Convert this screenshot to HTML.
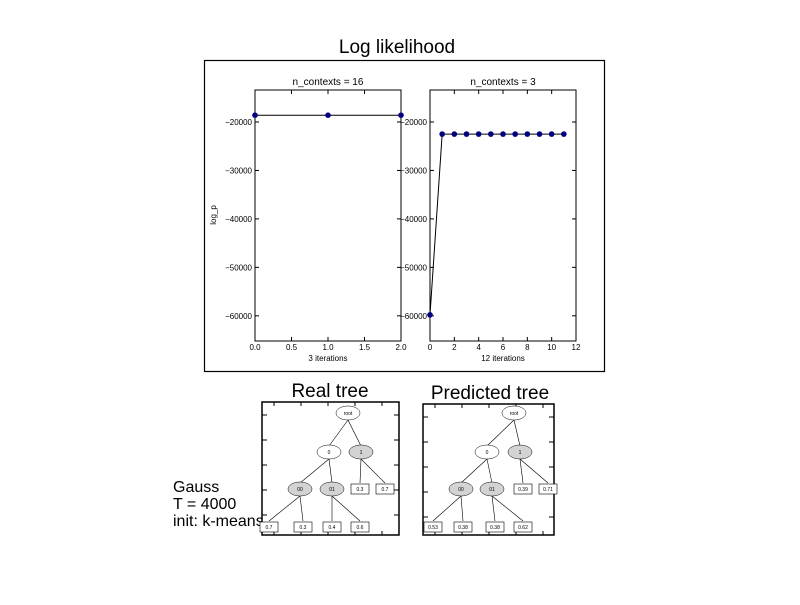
<!DOCTYPE html>
<html><head><meta charset="utf-8"><style>
body{margin:0;background:#fff;width:800px;height:600px;overflow:hidden}
svg text{font-family:"Liberation Sans",sans-serif}
</style></head><body>
<svg id="fig" width="800" height="600" xmlns="http://www.w3.org/2000/svg">
<text x="397" y="53" font-size="19" text-anchor="middle">Log likelihood</text>
<rect x="204.5" y="60.5" width="400" height="311" fill="none" stroke="#000" stroke-width="1.2"/>
<g id="plots"></g>
<text x="330" y="397" font-size="19" text-anchor="middle">Real tree</text>
<text x="490" y="399" font-size="19" text-anchor="middle">Predicted tree</text>
<g font-size="16">
<text x="173" y="492">Gauss</text>
<text x="173" y="509">T = 4000</text>
<text x="173" y="526">init: k-means</text>
</g>
<g id="trees"></g>
</svg>
<script>
const NS="http://www.w3.org/2000/svg";
const leftX=[0,1,2];
const leftY=[-18600,-18600,-18600];
const rightX=[0,1,2,3,4,5,6,7,8,9,10,11];
const rightY=[-59800,-22500,-22500,-22500,-22500,-22500,-22500,-22500,-22500,-22500,-22500,-22500];
const yTicks=[-20000,-30000,-40000,-50000,-60000];
const leftXTicks=[0,0.5,1,1.5,2];
const rightXTicks=[0,2,4,6,8,10,12];
const yMin=-65200,yMax=-13400;
function mk(t,a,p){const e=document.createElementNS(NS,t);for(const k in a)e.setAttribute(k,a[k]);(p||document.getElementById('plots')).appendChild(e);return e;}
function panel(name,x0,x1,xmin,xmax,xs,ys,xt,title,xlabel,fmt){
 const y0=90,y1=341;
 const sx=v=>x0+(v-xmin)/(xmax-xmin)*(x1-x0);
 const sy=v=>y1-(v-yMin)/(yMax-yMin)*(y1-y0);
 const g=mk('g',{});
 
 
 const r=mk('rect',{x:x0,y:y0,width:x1-x0,height:y1-y0,fill:'none',stroke:'#000','stroke-width':1},g);
 
 
 const t=mk('text',{x:(x0+x1)/2,y:y0-5,'font-size':10,'text-anchor':'middle'},g);t.textContent=title;
 
 
 yTicks.forEach(v=>{const y=sy(v);mk('line',{x1:x0,x2:x0+4,y1:y,y2:y,stroke:'#000'},g);mk('line',{x1:x1,x2:x1-4,y1:y,y2:y,stroke:'#000'},g);
  const l=mk('text',{x:x0-3,y:y+3,'font-size':8,'text-anchor':'end'},g);l.textContent='\u2212'+(-v);
  
  });
 xt.forEach(v=>{const x=sx(v);mk('line',{x1:x,x2:x,y1:y1,y2:y1-4,stroke:'#000'},g);mk('line',{x1:x,x2:x,y1:y0,y2:y0+4,stroke:'#000'},g);
  const l=mk('text',{x:x,y:y1+9,'font-size':8,'text-anchor':'middle'},g);l.textContent=fmt(v);
  
  });
 const xl=mk('text',{x:(x0+x1)/2,y:y1+20,'font-size':8,'text-anchor':'middle'},g);xl.textContent=xlabel;
 
 
 const ln=mk('polyline',{points:xs.map((v,i)=>sx(v)+','+sy(ys[i])).join(' '),fill:'none',stroke:'#000','stroke-width':1},g);
 
 
 xs.forEach((v,i)=>{const c=mk('circle',{cx:sx(v),cy:sy(ys[i]),r:2.8,fill:'#000080'},g);
  
  });
}
panel('left-panel',255,401,0,2,leftX,leftY,leftXTicks,'n_contexts = 16','3 iterations',v=>v.toFixed(1));
panel('right-panel',430,576,0,12,rightX,rightY,rightXTicks,'n_contexts = 3','12 iterations',v=>String(v));
const yl=mk('text',{x:0,y:0,'font-size':8,'text-anchor':'middle',transform:'translate(216,215) rotate(-90)'});yl.textContent='log_p';



const tg=document.getElementById('trees');
function tree(name,bx,by,bw,bh,nodes,leaves,boxes){
 const g=mk('g',{},tg);
 
 
 mk('rect',{x:bx,y:by,width:bw,height:bh,fill:'#fff',stroke:'#000','stroke-width':1.5},g);
 for(let y=by+13;y<by+bh;y+=25){mk('line',{x1:bx,x2:bx+5,y1:y,y2:y,stroke:'#000'},g);mk('line',{x1:bx+bw,x2:bx+bw-5,y1:y,y2:y,stroke:'#000'},g);}
 for(let x=bx+12;x<bx+bw;x+=27){mk('line',{x1:x,x2:x,y1:by,y2:by+4,stroke:'#000'},g);mk('line',{x1:x,x2:x,y1:by+bh,y2:by+bh-4,stroke:'#000'},g);}
 const [root,a,b,c,d]=nodes;
 const edges=[[root,a],[root,b],[a,c],[a,d]];
 boxes.forEach(bb=>edges.push([b,bb]));leaves.forEach((l,i)=>edges.push([i<2?c:d,l]));
 edges.forEach(([p,q])=>mk('line',{x1:p[0],y1:p[1]+7,x2:q[0],y2:q[1]-6,stroke:'#000','stroke-width':0.6},g));
 nodes.forEach(n=>{mk('ellipse',{cx:n[0],cy:n[1],rx:12,ry:7,fill:n[3]?'#d3d3d3':'#fff',stroke:'#000','stroke-width':0.5},g);
  const t=mk('text',{x:n[0],y:n[1]+2,'font-size':5,'text-anchor':'middle'},g);t.textContent=n[2];});
 boxes.concat(leaves).forEach(l=>{mk('rect',{x:l[0]-9,y:l[1]-5,width:18,height:10,fill:'#fff',stroke:'#000','stroke-width':0.6},g);
  const t=mk('text',{x:l[0],y:l[1]+2,'font-size':5,'text-anchor':'middle'},g);t.textContent=l[2];});
}
tree('real-tree',262,402,137,133,
 [[348,413,'root',0],[329,452,'0',0],[361,452,'1',1],[300,489,'00',1],[332,489,'01',1]],
 [[269,527,'0.7'],[303,527,'0.3'],[332,527,'0.4'],[360,527,'0.6']],
 [[360,489,'0.3'],[385,489,'0.7']]);
tree('predicted-tree',423,404,131,131,
 [[514,413,'root',0],[487,452,'0',0],[520,452,'1',1],[461,489,'00',1],[492,489,'01',1]],
 [[433,527,'0.53'],[463,527,'0.38'],[495,527,'0.38'],[523,527,'0.62']],
 [[523,489,'0.39'],[548,489,'0.71']]);
</script>
</body></html>
